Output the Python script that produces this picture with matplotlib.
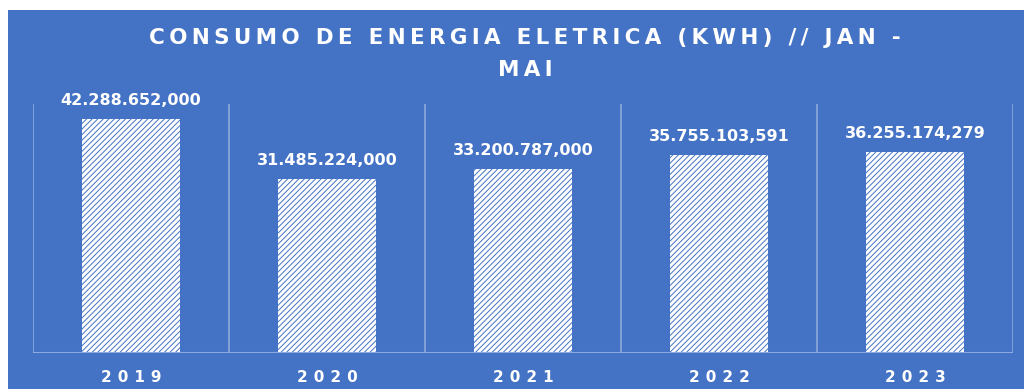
import matplotlib.pyplot as plt
from matplotlib.patches import Rectangle

anos = ['2019', '2020', '2021', '2022', '2023']
consumo = [42288652.000, 31485224.000, 33200787.000, 35755103.591, 36255174.279]
titulo = ['CONSUMO DE ENERGIA ELETRICA (KWH) // JAN -', 'MAI']

azul = '#4472C4'
grade = '#8EA9DB'
plt.rcParams['hatch.linewidth'] = 0.7
plt.rcParams['hatch.color'] = azul


def espacado(txt, sep='\u2009'):
    # espaco extra entre as letras
    return sep.join(txt)


def br(v):
    s = f'{v:,.3f}'
    return s.replace(',', 'X').replace('.', ',').replace('X', '.')


fig = plt.figure(figsize=(10.24, 3.89), dpi=100, facecolor='white')
fig.patches.append(Rectangle((8 / 1024, 0), 1016 / 1024, 379 / 389,
                             transform=fig.transFigure, facecolor=azul,
                             edgecolor='none', zorder=-1))

ax = fig.add_axes([33 / 1024, 36 / 389, 980 / 1024, 249 / 389])
ax.set_facecolor('none')
x = range(len(anos))
ax.bar(x, consumo, width=0.5, color='white', hatch='//////',
       edgecolor=azul, linewidth=0, zorder=2)
ax.set_xlim(-0.5, len(anos) - 0.5)
ax.set_ylim(0, 45e6)

# linhas verticais entre as categorias
for b in [i - 0.5 for i in range(len(anos) + 1)]:
    ax.axvline(b, color=grade, lw=1.2, zorder=1)
for s in ax.spines.values():
    s.set_visible(False)
ax.axhline(0, color=grade, lw=1.5, zorder=3)

ax.set_yticks([])
ax.set_xticks(list(x))
ax.set_xticklabels([espacado(a, '\u2009\u2009') for a in anos],
                   color='white', fontsize=11, fontweight='bold')
ax.tick_params(axis='x', length=0, pad=12)

for i, v in enumerate(consumo):
    ax.annotate(br(v), (i, v), xytext=(0, 8),
                textcoords='offset points', ha='center', va='bottom',
                color='white', fontsize=11.5, fontweight='bold')

fig.text(525 / 1024, 1 - 38 / 389, espacado(titulo[0]), ha='center',
         va='center', color='white', fontsize=15.5, fontweight='bold')
fig.text(525 / 1024, 1 - 70 / 389, espacado(titulo[1]), ha='center',
         va='center', color='white', fontsize=15.5, fontweight='bold')

fig.savefig('out.png', dpi=100, facecolor=fig.get_facecolor())
